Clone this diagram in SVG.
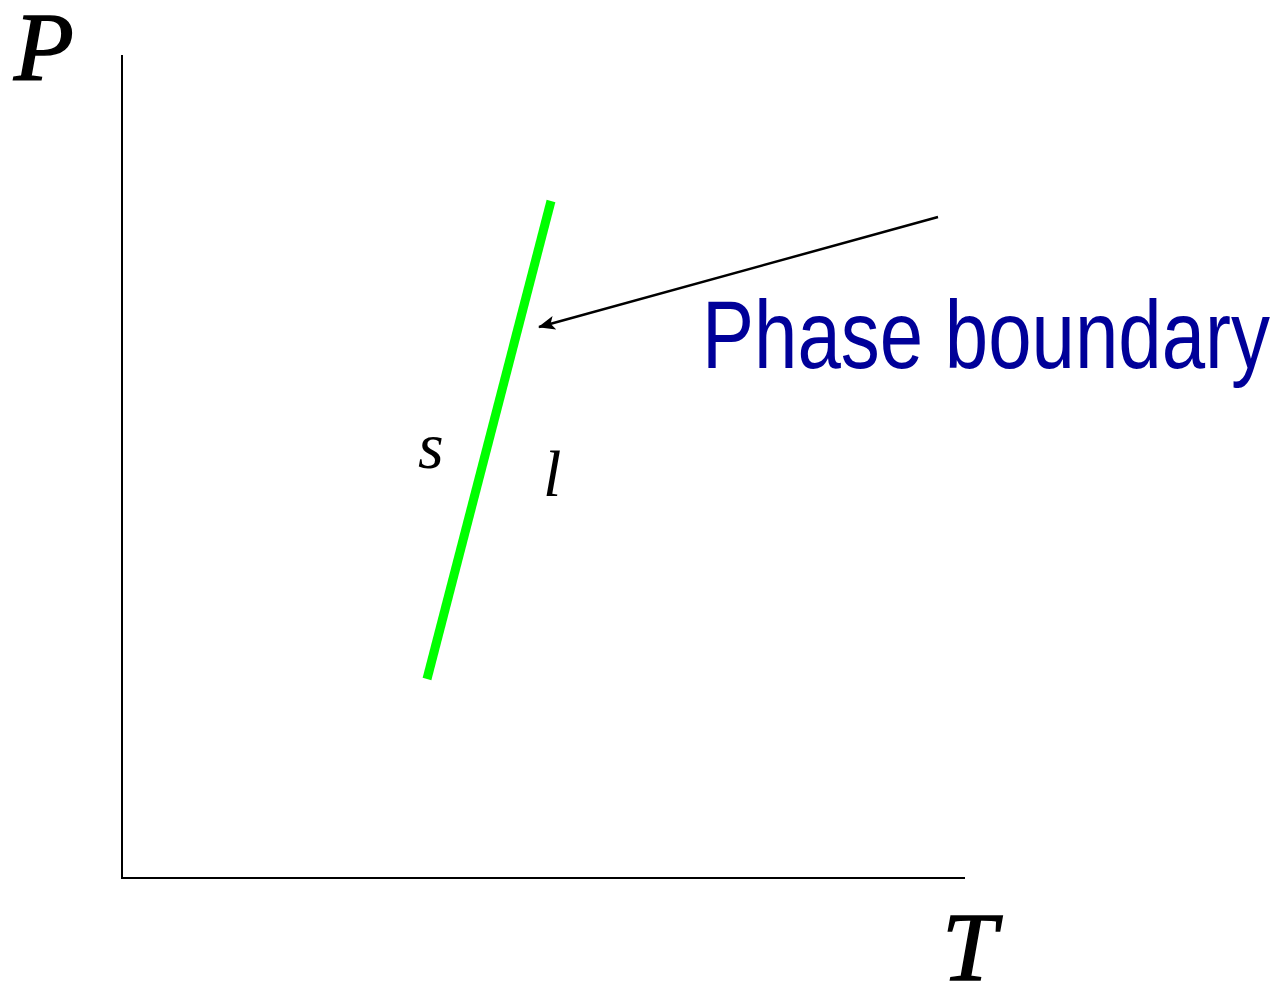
<svg xmlns="http://www.w3.org/2000/svg" width="1288" height="995" viewBox="0 0 1288 995">
<style>
.ax{stroke:#000;stroke-width:2;fill:none}
.it{font-family:"Liberation Serif","Times New Roman",serif;font-style:italic;fill:#000}
.lbl{font-family:"Liberation Sans Narrow","Arial Narrow","Liberation Sans",Arial,sans-serif;fill:#000099}
</style>
<defs>
<marker id="ah2" markerWidth="18" markerHeight="14" refX="16" refY="7" orient="auto" markerUnits="userSpaceOnUse">
<path d="M0,0 L17,7 L0,14 L4,7 Z" fill="#000"/>
</marker>
</defs>
<rect width="1288" height="995" fill="#fff"/>
<g id="axes">
<line class="ax" x1="122" y1="55" x2="122" y2="879"/>
<line class="ax" x1="121" y1="878" x2="965" y2="878"/>
</g>
<g id="axis-labels">
<text class="it" x="14" y="80" font-size="98" stroke="#000" stroke-width="1.5">P</text>
<text class="it" x="942" y="980" font-size="98" stroke="#000" stroke-width="1.5">T</text>
</g>
<g id="boundary">
<line x1="427" y1="679" x2="551" y2="201" stroke="#00ff00" stroke-width="9"/>
</g>
<g id="phase-labels">
<text class="it" x="418" y="468" font-size="66">s</text>
<text class="it" x="543" y="496" font-size="66">l</text>
</g>
<g id="connectors">
<line x1="938" y1="217" x2="539" y2="327" stroke="#000" stroke-width="2.5" marker-end="url(#ah2)"/>
</g>
<g id="label">
<text class="lbl" x="702" y="368" font-size="96" textLength="568" lengthAdjust="spacingAndGlyphs">Phase boundary</text>
</g>
</svg>
